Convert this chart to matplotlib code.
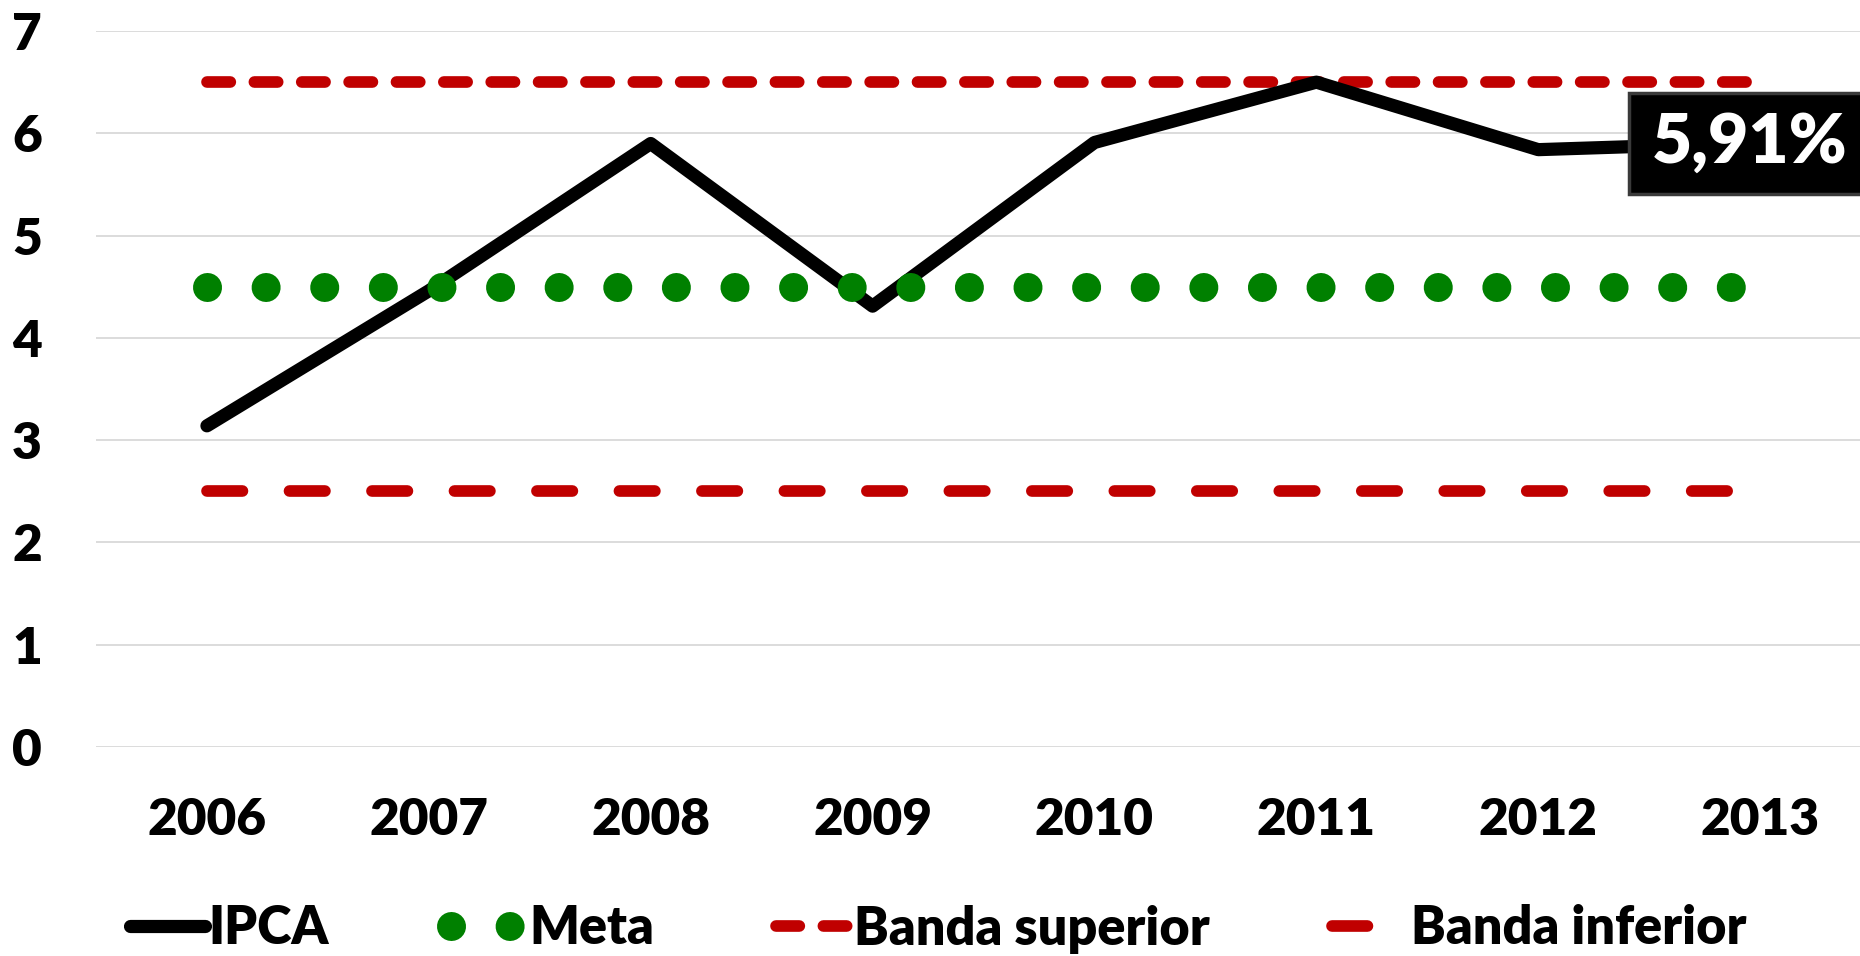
import matplotlib
matplotlib.use("Agg")
import matplotlib.pyplot as plt

# dados
anos = ["2006", "2007", "2008", "2009", "2010", "2011", "2012", "2013"]
ipca = [3.14, 4.46, 5.90, 4.31, 5.91, 6.50, 5.84, 5.91]
meta = [4.5, 4.5, 4.5, 4.5, 4.5, 4.5, 4.5, 4.5]
banda_sup = [6.5, 6.5, 6.5, 6.5, 6.5, 6.5, 6.5, 6.5]
banda_inf = [2.5, 2.5, 2.5, 2.5, 2.5, 2.5, 2.5, 2.5]
rotulo_final = "5,91%"

plt.rcParams['font.family'] = ['Lato', 'DejaVu Sans']
plt.rcParams['font.weight'] = 'heavy'

W, H = 1860, 956
fig = plt.figure(figsize=(W / 100, H / 100), dpi=100)
ax = fig.add_axes([96 / W, 209 / H, 1764 / W, 716 / H])

x = list(range(len(anos)))

ax.plot(x, banda_sup, color="#C00000", lw=8.4, dashes=(2.0, 2.06),
        dash_capstyle="round", label="Banda superior", zorder=3)
ax.plot(x, banda_inf, color="#C00000", lw=8.4, dashes=(3.04, 4.03),
        dash_capstyle="round", label="Banda inferior", zorder=3)
ax.plot(x, ipca, color="black", lw=9.5, solid_capstyle="round",
        solid_joinstyle="round", label="IPCA", zorder=4)
ax.plot(x, meta, color="#008000", lw=20.9, dashes=(0.001, 2.018),
        dash_capstyle="round", label="Meta", zorder=5)

# rotulo do ultimo ponto
ax.annotate(rotulo_final, xy=(x[-1], ipca[-1]), xytext=(-10, -1),
            textcoords="offset pixels", ha="center", va="center",
            fontsize=50, fontweight="heavy", color="white", zorder=6,
            bbox=dict(boxstyle="square,pad=0.33", mutation_aspect=0.85,
                      fc="black", ec="#3a3a3a", lw=2.5))

ax.set_xlim(-0.5, 7.45)
ax.set_ylim(0, 7)
ax.set_yticks(range(0, 8))
ax.set_xticks(x)
ax.set_xticklabels(anos)
ax.tick_params(axis="both", length=0, labelsize=37)
ax.tick_params(axis="y", pad=39)
ax.tick_params(axis="x", pad=36)
for lab in ax.get_xticklabels() + ax.get_yticklabels():
    lab.set_fontweight("heavy")
ax.grid(axis="y", color="#D9D9D9", lw=1.3)
ax.set_axisbelow(True)
for s in ax.spines.values():
    s.set_visible(False)

hs, ls = ax.get_legend_handles_labels()
ordem = ["IPCA", "Meta", "Banda superior", "Banda inferior"]
hs = [hs[ls.index(o)] for o in ordem]
fig.legend(hs, ordem, loc="center", bbox_to_anchor=(938 / W, 27 / H), ncol=4,
           frameon=False, prop=dict(size=37.5, weight="heavy"),
           handlelength=1.45, handletextpad=0.05, columnspacing=2.35,
           borderpad=0, borderaxespad=0)

fig.savefig("out.png", dpi=100)
